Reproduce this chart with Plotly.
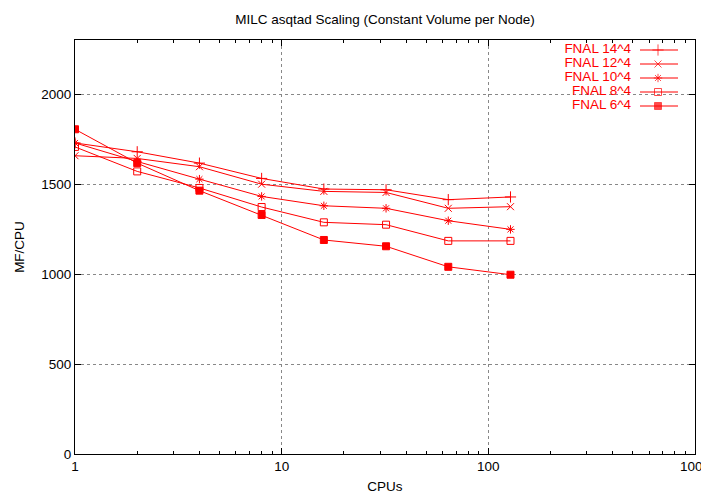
import plotly.graph_objects as go

cpus = [1, 2, 4, 8, 16, 32, 64, 128]
series_names = ["FNAL 14^4", "FNAL 12^4", "FNAL 10^4", "FNAL 8^4", "FNAL 6^4"]
fnal_14 = [1728, 1679, 1616, 1531, 1472, 1468, 1413, 1428]
fnal_12 = [1657, 1642, 1596, 1499, 1459, 1453, 1365, 1374]
fnal_10 = [1728, 1625, 1527, 1431, 1379, 1365, 1296, 1248]
fnal_8 = [1706, 1570, 1478, 1372, 1287, 1274, 1184, 1184]
fnal_6 = [1804, 1616, 1463, 1328, 1189, 1154, 1040, 996]
series_values = [fnal_14, fnal_12, fnal_10, fnal_8, fnal_6]
symbols = ["cross-thin-open", "x-thin-open", "asterisk-open", "square-open", "square"]
sizes = [8, 7, 7, 7, 7]

x_tickvals = [1, 10, 100, 1000]
x_ticktext = ["1", "10", "100", "1000"]
y_tickvals = [0, 500, 1000, 1500, 2000]

RED = "#ff0000"
FONT = "Liberation Sans, Arial, sans-serif"
FS = 13.5

# the page body has an 8px margin; size the figure so it fits the 709x494 window
OFF = 8
W, H = 709 - OFF, 494 - OFF
# desired plot area in window pixels: x 75..695, y 40..454
L, R, T, B = 75 - OFF, 709 - 695, 40 - OFF, 494 - 454
pw, ph = W - L - R, H - T - B

def px(xs):  # window pixel -> paper x
    return (xs - OFF - L) / pw

def py(ys):  # window pixel -> paper y
    return 1 - (ys - OFF - T) / ph

fig = go.Figure()
for name, vals, sym, sz in zip(series_names, series_values, symbols, sizes):
    fig.add_trace(go.Scatter(
        x=cpus, y=vals, mode="lines+markers", name=name,
        line=dict(color=RED, width=1),
        marker=dict(symbol=sym, size=sz, color=RED, line=dict(color=RED, width=1)),
        showlegend=False,
    ))

# custom gnuplot-style legend (text right aligned, sample on right)
rows = [50, 64, 78, 92, 106]
fig.add_trace(go.Scatter(
    x=[px(631)] * len(series_names), y=[py(r) for r in rows], xaxis="x2", yaxis="y2",
    mode="text", text=series_names, textposition="middle left",
    textfont=dict(family=FONT, size=FS, color=RED),
    showlegend=False, hoverinfo="skip",
))
for i, (name, sym, sz) in enumerate(zip(series_names, symbols, sizes)):
    yy = py(rows[i])
    fig.add_trace(go.Scatter(
        x=[px(640), px(658), px(678)], y=[yy, yy, yy], xaxis="x2", yaxis="y2",
        mode="lines+markers", line=dict(color=RED, width=1),
        marker=dict(symbol=sym, size=[0, sz, 0], color=RED, line=dict(color=RED, width=1)),
        showlegend=False, hoverinfo="skip",
    ))

axis_common = dict(
    showline=True, linecolor="black", linewidth=1, mirror="ticks",
    ticks="inside", tickcolor="black", ticklen=6,
    showgrid=True, gridcolor="#888888", griddash="dot", gridwidth=1,
    zeroline=False, tickfont=dict(family=FONT, size=FS, color="black"),
    automargin=False, ticklabeloverflow="allow",
)

fig.update_layout(
    width=W, height=H,
    margin=dict(l=L, r=R, t=T, b=B, pad=0),
    paper_bgcolor="white", plot_bgcolor="white",
    title=dict(text="MILC asqtad Scaling (Constant Volume per Node)",
               x=(L + pw / 2) / W, xanchor="center", y=1 - (19 - OFF) / H, yanchor="middle",
               font=dict(family=FONT, size=FS, color="black"), automargin=False),
    xaxis=dict(type="log", range=[0, 3], tickvals=x_tickvals, ticktext=x_ticktext,
               title=dict(text="CPUs", font=dict(family=FONT, size=FS, color="black"), standoff=10),
               minor=dict(ticks="inside", ticklen=3, tickcolor="black",
                          tickvals=[m * d for d in (1, 10, 100) for m in range(2, 10)],
                          showgrid=False),
               **axis_common),
    yaxis=dict(range=[0, 2300], tickvals=y_tickvals,
               title=dict(text="MF/CPU", font=dict(family=FONT, size=FS, color="black"), standoff=13),
               **axis_common),
    xaxis2=dict(range=[0, 1], overlaying="x", visible=False, fixedrange=True),
    yaxis2=dict(range=[0, 1], overlaying="y", visible=False, fixedrange=True),
    showlegend=False,
)

fig.write_html("out.html")
